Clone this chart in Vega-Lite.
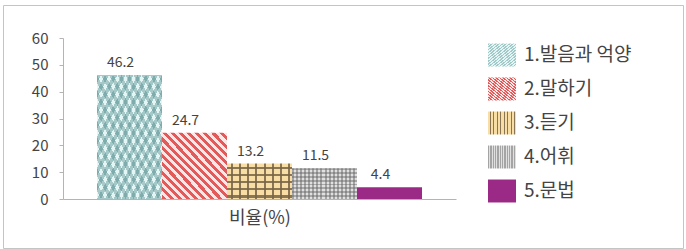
{
  "$schema": "https://vega.github.io/schema/vega-lite/v6.json",
  "width": 680,
  "height": 243,
  "autosize": {"type": "none"},
  "padding": {"left": 3, "top": 5, "right": 3, "bottom": 1},
  "background": "white",
  "config": {
    "view": {"stroke": "#c4c4c4", "strokeWidth": 1},
    "font": "Noto Sans CJK KR"
  },
  "data": {
    "values": [
      {"item": "1.발음과 억양", "value": 46.2},
      {"item": "2.말하기", "value": 24.7},
      {"item": "3.듣기", "value": 13.2},
      {"item": "4.어휘", "value": 11.5},
      {"item": "5.문법", "value": 4.4}
    ]
  },
  "encoding": {
    "x": {
      "field": "item", "type": "nominal", "sort": null,
      "scale": {"range": [60, 453], "paddingInner": 0, "paddingOuter": 0.523},
      "axis": {
        "orient": "bottom", "offset": -49, "labels": false, "ticks": false,
        "domainColor": "#b4b4b4", "title": "비율(%)",
        "titleFont": "Noto Sans CJK KR", "titleFontSize": 18, "titleFontWeight": "normal",
        "titleColor": "#444444", "titlePadding": 10
      }
    },
    "y": {
      "field": "value", "type": "quantitative",
      "scale": {"domain": [0, 60], "range": [194, 33], "nice": false},
      "axis": {
        "offset": -60, "values": [0, 10, 20, 30, 40, 50, 60], "grid": false, "title": null,
        "tickSize": 4, "tickColor": "#b4b4b4", "domainColor": "#b4b4b4",
        "labelPadding": 11, "labelFont": "Noto Sans CJK KR", "labelFontSize": 15, "labelColor": "#444444"
      }
    }
  },
  "layer": [
    {
      "mark": {"type": "bar"},
      "encoding": {
        "fill": {
          "field": "item", "type": "nominal", "sort": null,
          "scale": {
            "range": [
              {"expr": "{gradient:'linear',x1:0,y1:0,x2:1,y2:1,stops:[{offset:0,color:'#a2c8c8'},{offset:0.03125,color:'#a2c8c8'},{offset:0.03125,color:'#e4f5f5'},{offset:0.0625,color:'#e4f5f5'},{offset:0.0625,color:'#a2c8c8'},{offset:0.09375,color:'#a2c8c8'},{offset:0.09375,color:'#e4f5f5'},{offset:0.125,color:'#e4f5f5'},{offset:0.125,color:'#a2c8c8'},{offset:0.15625,color:'#a2c8c8'},{offset:0.15625,color:'#e4f5f5'},{offset:0.1875,color:'#e4f5f5'},{offset:0.1875,color:'#a2c8c8'},{offset:0.21875,color:'#a2c8c8'},{offset:0.21875,color:'#e4f5f5'},{offset:0.25,color:'#e4f5f5'},{offset:0.25,color:'#a2c8c8'},{offset:0.28125,color:'#a2c8c8'},{offset:0.28125,color:'#e4f5f5'},{offset:0.3125,color:'#e4f5f5'},{offset:0.3125,color:'#a2c8c8'},{offset:0.34375,color:'#a2c8c8'},{offset:0.34375,color:'#e4f5f5'},{offset:0.375,color:'#e4f5f5'},{offset:0.375,color:'#a2c8c8'},{offset:0.40625,color:'#a2c8c8'},{offset:0.40625,color:'#e4f5f5'},{offset:0.4375,color:'#e4f5f5'},{offset:0.4375,color:'#a2c8c8'},{offset:0.46875,color:'#a2c8c8'},{offset:0.46875,color:'#e4f5f5'},{offset:0.5,color:'#e4f5f5'},{offset:0.5,color:'#a2c8c8'},{offset:0.53125,color:'#a2c8c8'},{offset:0.53125,color:'#e4f5f5'},{offset:0.5625,color:'#e4f5f5'},{offset:0.5625,color:'#a2c8c8'},{offset:0.59375,color:'#a2c8c8'},{offset:0.59375,color:'#e4f5f5'},{offset:0.625,color:'#e4f5f5'},{offset:0.625,color:'#a2c8c8'},{offset:0.65625,color:'#a2c8c8'},{offset:0.65625,color:'#e4f5f5'},{offset:0.6875,color:'#e4f5f5'},{offset:0.6875,color:'#a2c8c8'},{offset:0.71875,color:'#a2c8c8'},{offset:0.71875,color:'#e4f5f5'},{offset:0.75,color:'#e4f5f5'},{offset:0.75,color:'#a2c8c8'},{offset:0.78125,color:'#a2c8c8'},{offset:0.78125,color:'#e4f5f5'},{offset:0.8125,color:'#e4f5f5'},{offset:0.8125,color:'#a2c8c8'},{offset:0.84375,color:'#a2c8c8'},{offset:0.84375,color:'#e4f5f5'},{offset:0.875,color:'#e4f5f5'},{offset:0.875,color:'#a2c8c8'},{offset:0.90625,color:'#a2c8c8'},{offset:0.90625,color:'#e4f5f5'},{offset:0.9375,color:'#e4f5f5'},{offset:0.9375,color:'#a2c8c8'},{offset:0.96875,color:'#a2c8c8'},{offset:0.96875,color:'#e4f5f5'},{offset:1,color:'#e4f5f5'}]}"},
              {"expr": "{gradient:'linear',x1:0,y1:1,x2:1,y2:0,stops:[{offset:0,color:'#e25a5a'},{offset:0.03125,color:'#e25a5a'},{offset:0.03125,color:'#fde6e6'},{offset:0.0625,color:'#fde6e6'},{offset:0.0625,color:'#e25a5a'},{offset:0.09375,color:'#e25a5a'},{offset:0.09375,color:'#fde6e6'},{offset:0.125,color:'#fde6e6'},{offset:0.125,color:'#e25a5a'},{offset:0.15625,color:'#e25a5a'},{offset:0.15625,color:'#fde6e6'},{offset:0.1875,color:'#fde6e6'},{offset:0.1875,color:'#e25a5a'},{offset:0.21875,color:'#e25a5a'},{offset:0.21875,color:'#fde6e6'},{offset:0.25,color:'#fde6e6'},{offset:0.25,color:'#e25a5a'},{offset:0.28125,color:'#e25a5a'},{offset:0.28125,color:'#fde6e6'},{offset:0.3125,color:'#fde6e6'},{offset:0.3125,color:'#e25a5a'},{offset:0.34375,color:'#e25a5a'},{offset:0.34375,color:'#fde6e6'},{offset:0.375,color:'#fde6e6'},{offset:0.375,color:'#e25a5a'},{offset:0.40625,color:'#e25a5a'},{offset:0.40625,color:'#fde6e6'},{offset:0.4375,color:'#fde6e6'},{offset:0.4375,color:'#e25a5a'},{offset:0.46875,color:'#e25a5a'},{offset:0.46875,color:'#fde6e6'},{offset:0.5,color:'#fde6e6'},{offset:0.5,color:'#e25a5a'},{offset:0.53125,color:'#e25a5a'},{offset:0.53125,color:'#fde6e6'},{offset:0.5625,color:'#fde6e6'},{offset:0.5625,color:'#e25a5a'},{offset:0.59375,color:'#e25a5a'},{offset:0.59375,color:'#fde6e6'},{offset:0.625,color:'#fde6e6'},{offset:0.625,color:'#e25a5a'},{offset:0.65625,color:'#e25a5a'},{offset:0.65625,color:'#fde6e6'},{offset:0.6875,color:'#fde6e6'},{offset:0.6875,color:'#e25a5a'},{offset:0.71875,color:'#e25a5a'},{offset:0.71875,color:'#fde6e6'},{offset:0.75,color:'#fde6e6'},{offset:0.75,color:'#e25a5a'},{offset:0.78125,color:'#e25a5a'},{offset:0.78125,color:'#fde6e6'},{offset:0.8125,color:'#fde6e6'},{offset:0.8125,color:'#e25a5a'},{offset:0.84375,color:'#e25a5a'},{offset:0.84375,color:'#fde6e6'},{offset:0.875,color:'#fde6e6'},{offset:0.875,color:'#e25a5a'},{offset:0.90625,color:'#e25a5a'},{offset:0.90625,color:'#fde6e6'},{offset:0.9375,color:'#fde6e6'},{offset:0.9375,color:'#e25a5a'},{offset:0.96875,color:'#e25a5a'},{offset:0.96875,color:'#fde6e6'},{offset:1,color:'#fde6e6'}]}"},
              {"expr": "{gradient:'linear',x1:0,y1:0,x2:1,y2:0,stops:[{offset:0,color:'#f8dea4'},{offset:0.0625,color:'#f8dea4'},{offset:0.0625,color:'#8a7654'},{offset:0.09375,color:'#8a7654'},{offset:0.09375,color:'#f8dea4'},{offset:0.1875,color:'#f8dea4'},{offset:0.1875,color:'#8a7654'},{offset:0.21875,color:'#8a7654'},{offset:0.21875,color:'#f8dea4'},{offset:0.3125,color:'#f8dea4'},{offset:0.3125,color:'#8a7654'},{offset:0.34375,color:'#8a7654'},{offset:0.34375,color:'#f8dea4'},{offset:0.4375,color:'#f8dea4'},{offset:0.4375,color:'#8a7654'},{offset:0.46875,color:'#8a7654'},{offset:0.46875,color:'#f8dea4'},{offset:0.5625,color:'#f8dea4'},{offset:0.5625,color:'#8a7654'},{offset:0.59375,color:'#8a7654'},{offset:0.59375,color:'#f8dea4'},{offset:0.6875,color:'#f8dea4'},{offset:0.6875,color:'#8a7654'},{offset:0.71875,color:'#8a7654'},{offset:0.71875,color:'#f8dea4'},{offset:0.8125,color:'#f8dea4'},{offset:0.8125,color:'#8a7654'},{offset:0.84375,color:'#8a7654'},{offset:0.84375,color:'#f8dea4'},{offset:0.9375,color:'#f8dea4'},{offset:0.9375,color:'#8a7654'},{offset:0.96875,color:'#8a7654'},{offset:0.96875,color:'#f8dea4'},{offset:1,color:'#f8dea4'}]}"},
              {"expr": "{gradient:'linear',x1:0,y1:0,x2:1,y2:0,stops:[{offset:0,color:'#a4a4a4'},{offset:0.03125,color:'#a4a4a4'},{offset:0.03125,color:'#e0e0e0'},{offset:0.0625,color:'#e0e0e0'},{offset:0.0625,color:'#a4a4a4'},{offset:0.09375,color:'#a4a4a4'},{offset:0.09375,color:'#e0e0e0'},{offset:0.125,color:'#e0e0e0'},{offset:0.125,color:'#a4a4a4'},{offset:0.15625,color:'#a4a4a4'},{offset:0.15625,color:'#e0e0e0'},{offset:0.1875,color:'#e0e0e0'},{offset:0.1875,color:'#a4a4a4'},{offset:0.21875,color:'#a4a4a4'},{offset:0.21875,color:'#e0e0e0'},{offset:0.25,color:'#e0e0e0'},{offset:0.25,color:'#a4a4a4'},{offset:0.28125,color:'#a4a4a4'},{offset:0.28125,color:'#e0e0e0'},{offset:0.3125,color:'#e0e0e0'},{offset:0.3125,color:'#a4a4a4'},{offset:0.34375,color:'#a4a4a4'},{offset:0.34375,color:'#e0e0e0'},{offset:0.375,color:'#e0e0e0'},{offset:0.375,color:'#a4a4a4'},{offset:0.40625,color:'#a4a4a4'},{offset:0.40625,color:'#e0e0e0'},{offset:0.4375,color:'#e0e0e0'},{offset:0.4375,color:'#a4a4a4'},{offset:0.46875,color:'#a4a4a4'},{offset:0.46875,color:'#e0e0e0'},{offset:0.5,color:'#e0e0e0'},{offset:0.5,color:'#a4a4a4'},{offset:0.53125,color:'#a4a4a4'},{offset:0.53125,color:'#e0e0e0'},{offset:0.5625,color:'#e0e0e0'},{offset:0.5625,color:'#a4a4a4'},{offset:0.59375,color:'#a4a4a4'},{offset:0.59375,color:'#e0e0e0'},{offset:0.625,color:'#e0e0e0'},{offset:0.625,color:'#a4a4a4'},{offset:0.65625,color:'#a4a4a4'},{offset:0.65625,color:'#e0e0e0'},{offset:0.6875,color:'#e0e0e0'},{offset:0.6875,color:'#a4a4a4'},{offset:0.71875,color:'#a4a4a4'},{offset:0.71875,color:'#e0e0e0'},{offset:0.75,color:'#e0e0e0'},{offset:0.75,color:'#a4a4a4'},{offset:0.78125,color:'#a4a4a4'},{offset:0.78125,color:'#e0e0e0'},{offset:0.8125,color:'#e0e0e0'},{offset:0.8125,color:'#a4a4a4'},{offset:0.84375,color:'#a4a4a4'},{offset:0.84375,color:'#e0e0e0'},{offset:0.875,color:'#e0e0e0'},{offset:0.875,color:'#a4a4a4'},{offset:0.90625,color:'#a4a4a4'},{offset:0.90625,color:'#e0e0e0'},{offset:0.9375,color:'#e0e0e0'},{offset:0.9375,color:'#a4a4a4'},{offset:0.96875,color:'#a4a4a4'},{offset:0.96875,color:'#e0e0e0'},{offset:1,color:'#e0e0e0'}]}"},
              "#9b2a87"
            ]
          },
          "legend": {
            "orient": "none", "legendX": 485, "legendY": 36, "title": null, "padding": 0,
            "symbolType": "M-1,-0.82H1V0.82H-1Z", "symbolSize": 784, "symbolStrokeWidth": 0,
            "labelFont": "Noto Sans CJK KR", "labelFontSize": 19, "labelColor": "#444444",
            "labelOffset": 8, "rowPadding": 8, "labelLimit": 300
          }
        }
      }
    },
    {
      "transform": [{"filter": {"field": "item", "equal": "1.발음과 억양"}}],
      "mark": {"type": "bar", "fill": {"gradient": "linear", "x1": 1, "y1": 0, "x2": 0, "y2": 1, "stops": [{"offset":0,"color":"rgba(60,120,120,0.35)"},{"offset":0.03125,"color":"rgba(60,120,120,0.35)"},{"offset":0.03125,"color":"rgba(255,255,255,0)"},{"offset":0.0625,"color":"rgba(255,255,255,0)"},{"offset":0.0625,"color":"rgba(60,120,120,0.35)"},{"offset":0.09375,"color":"rgba(60,120,120,0.35)"},{"offset":0.09375,"color":"rgba(255,255,255,0)"},{"offset":0.125,"color":"rgba(255,255,255,0)"},{"offset":0.125,"color":"rgba(60,120,120,0.35)"},{"offset":0.15625,"color":"rgba(60,120,120,0.35)"},{"offset":0.15625,"color":"rgba(255,255,255,0)"},{"offset":0.1875,"color":"rgba(255,255,255,0)"},{"offset":0.1875,"color":"rgba(60,120,120,0.35)"},{"offset":0.21875,"color":"rgba(60,120,120,0.35)"},{"offset":0.21875,"color":"rgba(255,255,255,0)"},{"offset":0.25,"color":"rgba(255,255,255,0)"},{"offset":0.25,"color":"rgba(60,120,120,0.35)"},{"offset":0.28125,"color":"rgba(60,120,120,0.35)"},{"offset":0.28125,"color":"rgba(255,255,255,0)"},{"offset":0.3125,"color":"rgba(255,255,255,0)"},{"offset":0.3125,"color":"rgba(60,120,120,0.35)"},{"offset":0.34375,"color":"rgba(60,120,120,0.35)"},{"offset":0.34375,"color":"rgba(255,255,255,0)"},{"offset":0.375,"color":"rgba(255,255,255,0)"},{"offset":0.375,"color":"rgba(60,120,120,0.35)"},{"offset":0.40625,"color":"rgba(60,120,120,0.35)"},{"offset":0.40625,"color":"rgba(255,255,255,0)"},{"offset":0.4375,"color":"rgba(255,255,255,0)"},{"offset":0.4375,"color":"rgba(60,120,120,0.35)"},{"offset":0.46875,"color":"rgba(60,120,120,0.35)"},{"offset":0.46875,"color":"rgba(255,255,255,0)"},{"offset":0.5,"color":"rgba(255,255,255,0)"},{"offset":0.5,"color":"rgba(60,120,120,0.35)"},{"offset":0.53125,"color":"rgba(60,120,120,0.35)"},{"offset":0.53125,"color":"rgba(255,255,255,0)"},{"offset":0.5625,"color":"rgba(255,255,255,0)"},{"offset":0.5625,"color":"rgba(60,120,120,0.35)"},{"offset":0.59375,"color":"rgba(60,120,120,0.35)"},{"offset":0.59375,"color":"rgba(255,255,255,0)"},{"offset":0.625,"color":"rgba(255,255,255,0)"},{"offset":0.625,"color":"rgba(60,120,120,0.35)"},{"offset":0.65625,"color":"rgba(60,120,120,0.35)"},{"offset":0.65625,"color":"rgba(255,255,255,0)"},{"offset":0.6875,"color":"rgba(255,255,255,0)"},{"offset":0.6875,"color":"rgba(60,120,120,0.35)"},{"offset":0.71875,"color":"rgba(60,120,120,0.35)"},{"offset":0.71875,"color":"rgba(255,255,255,0)"},{"offset":0.75,"color":"rgba(255,255,255,0)"},{"offset":0.75,"color":"rgba(60,120,120,0.35)"},{"offset":0.78125,"color":"rgba(60,120,120,0.35)"},{"offset":0.78125,"color":"rgba(255,255,255,0)"},{"offset":0.8125,"color":"rgba(255,255,255,0)"},{"offset":0.8125,"color":"rgba(60,120,120,0.35)"},{"offset":0.84375,"color":"rgba(60,120,120,0.35)"},{"offset":0.84375,"color":"rgba(255,255,255,0)"},{"offset":0.875,"color":"rgba(255,255,255,0)"},{"offset":0.875,"color":"rgba(60,120,120,0.35)"},{"offset":0.90625,"color":"rgba(60,120,120,0.35)"},{"offset":0.90625,"color":"rgba(255,255,255,0)"},{"offset":0.9375,"color":"rgba(255,255,255,0)"},{"offset":0.9375,"color":"rgba(60,120,120,0.35)"},{"offset":0.96875,"color":"rgba(60,120,120,0.35)"},{"offset":0.96875,"color":"rgba(255,255,255,0)"},{"offset":1,"color":"rgba(255,255,255,0)"}]}}
    },
    {
      "transform": [{"filter": {"field": "item", "equal": "3.듣기"}}],
      "mark": {"type": "bar", "fill": {"gradient": "linear", "x1": 0, "y1": 0, "x2": 0, "y2": 1, "stops": [{"offset":0,"color":"rgba(255,255,255,0)"},{"offset":0.1,"color":"rgba(255,255,255,0)"},{"offset":0.1,"color":"rgba(120,100,70,0.85)"},{"offset":0.16,"color":"rgba(120,100,70,0.85)"},{"offset":0.16,"color":"rgba(255,255,255,0)"},{"offset":0.3,"color":"rgba(255,255,255,0)"},{"offset":0.3,"color":"rgba(120,100,70,0.85)"},{"offset":0.36,"color":"rgba(120,100,70,0.85)"},{"offset":0.36,"color":"rgba(255,255,255,0)"},{"offset":0.5,"color":"rgba(255,255,255,0)"},{"offset":0.5,"color":"rgba(120,100,70,0.85)"},{"offset":0.56,"color":"rgba(120,100,70,0.85)"},{"offset":0.56,"color":"rgba(255,255,255,0)"},{"offset":0.7,"color":"rgba(255,255,255,0)"},{"offset":0.7,"color":"rgba(120,100,70,0.85)"},{"offset":0.76,"color":"rgba(120,100,70,0.85)"},{"offset":0.76,"color":"rgba(255,255,255,0)"},{"offset":0.9,"color":"rgba(255,255,255,0)"},{"offset":0.9,"color":"rgba(120,100,70,0.85)"},{"offset":0.96,"color":"rgba(120,100,70,0.85)"},{"offset":0.96,"color":"rgba(255,255,255,0)"},{"offset":1,"color":"rgba(255,255,255,0)"}]}}
    },
    {
      "transform": [{"filter": {"field": "item", "equal": "4.어휘"}}],
      "mark": {"type": "bar", "fill": {"gradient": "linear", "x1": 0, "y1": 0, "x2": 0, "y2": 1, "stops": [{"offset":0,"color":"rgba(100,100,100,0.45)"},{"offset":0.0625,"color":"rgba(100,100,100,0.45)"},{"offset":0.0625,"color":"rgba(255,255,255,0)"},{"offset":0.125,"color":"rgba(255,255,255,0)"},{"offset":0.125,"color":"rgba(100,100,100,0.45)"},{"offset":0.1875,"color":"rgba(100,100,100,0.45)"},{"offset":0.1875,"color":"rgba(255,255,255,0)"},{"offset":0.25,"color":"rgba(255,255,255,0)"},{"offset":0.25,"color":"rgba(100,100,100,0.45)"},{"offset":0.3125,"color":"rgba(100,100,100,0.45)"},{"offset":0.3125,"color":"rgba(255,255,255,0)"},{"offset":0.375,"color":"rgba(255,255,255,0)"},{"offset":0.375,"color":"rgba(100,100,100,0.45)"},{"offset":0.4375,"color":"rgba(100,100,100,0.45)"},{"offset":0.4375,"color":"rgba(255,255,255,0)"},{"offset":0.5,"color":"rgba(255,255,255,0)"},{"offset":0.5,"color":"rgba(100,100,100,0.45)"},{"offset":0.5625,"color":"rgba(100,100,100,0.45)"},{"offset":0.5625,"color":"rgba(255,255,255,0)"},{"offset":0.625,"color":"rgba(255,255,255,0)"},{"offset":0.625,"color":"rgba(100,100,100,0.45)"},{"offset":0.6875,"color":"rgba(100,100,100,0.45)"},{"offset":0.6875,"color":"rgba(255,255,255,0)"},{"offset":0.75,"color":"rgba(255,255,255,0)"},{"offset":0.75,"color":"rgba(100,100,100,0.45)"},{"offset":0.8125,"color":"rgba(100,100,100,0.45)"},{"offset":0.8125,"color":"rgba(255,255,255,0)"},{"offset":0.875,"color":"rgba(255,255,255,0)"},{"offset":0.875,"color":"rgba(100,100,100,0.45)"},{"offset":0.9375,"color":"rgba(100,100,100,0.45)"},{"offset":0.9375,"color":"rgba(255,255,255,0)"},{"offset":1,"color":"rgba(255,255,255,0)"}]}}
    },
    {
      "mark": {"type": "text", "baseline": "alphabetic", "align": "center", "dx": -9, "dy": -8, "fontSize": 14, "font": "Noto Sans CJK KR", "color": "#444444"},
      "encoding": {
        "text": {"field": "value", "type": "quantitative", "format": ".1f"}
      }
    }
  ]
}
